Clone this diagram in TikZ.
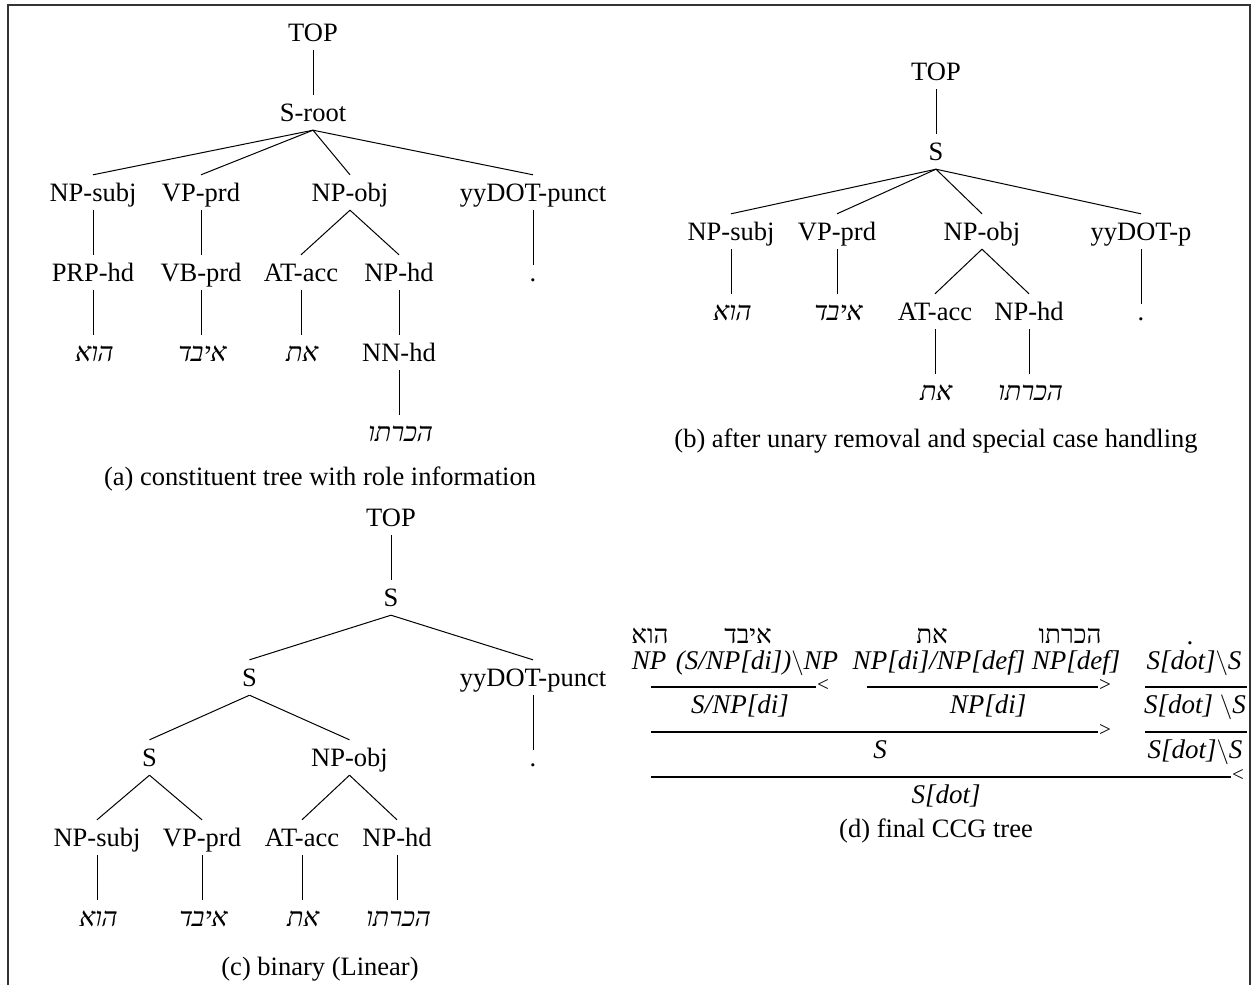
\documentclass[tikz,border=0pt]{standalone}
\usepackage{fontspec}
\setmainfont{Liberation Serif}
\newfontfamily\hebup[Script=Hebrew]{Liberation Serif}
\newfontfamily\hebsl[Script=Hebrew,FakeSlant=0.2]{Liberation Serif}
\TeXXeTstate=1
\newcommand{\bs}{$\backslash$}
\begin{document}
\begin{tikzpicture}[x=1pt,y=-1pt,
  lbl/.style={anchor=base, inner xsep=0pt, inner ysep=8.5pt, text height=18pt, text depth=0pt,
              font=\fontsize{26.5}{30}\selectfont},
  heb/.style={lbl, font=\fontsize{26.5}{30}\hebsl},
  dotleaf/.style={lbl, text height=8pt},
  branch/.style={line width=1pt},
  caption/.style={anchor=base, inner sep=0pt, font=\fontsize{26.5}{30}\selectfont},
  cat/.style={anchor=base, inner sep=0pt, font=\fontsize{27}{32}\selectfont\itshape},
  cathw/.style={anchor=base, inner sep=0pt, font=\fontsize{26}{30}\hebup},
  rulel/.style={line width=1.1pt},
  comb/.style={anchor=center, inner sep=0pt, font=\fontsize{21}{24}\selectfont},
]
\useasboundingbox (0,0) rectangle (1256,985);
\fill[white] (0,0) rectangle (1256,985);

% outer frame, open at the bottom
\draw[line width=1.7pt, black!80] (8,985) -- (8,5) -- (1250,5) -- (1250,985);

% ---------- (a) constituent tree with role information ----------
\node[lbl] (aTop) at (313,41.5) {TOP};
\node[lbl] (aS) at (313,121.5) {S-root};
\node[lbl] (aNPs) at (93,201.5) {NP-subj};
\node[lbl] (aVP) at (201,201.5) {VP-prd};
\node[lbl] (aNPo) at (350,201.5) {NP-obj};
\node[lbl] (aDot) at (533,201.5) {yyDOT-punct};
\node[lbl] (aPRP) at (93,281.5) {PRP-hd};
\node[lbl] (aVB) at (201,281.5) {VB-prd};
\node[lbl] (aAT) at (301,281.5) {AT-acc};
\node[lbl] (aNPh) at (399,281.5) {NP-hd};
\node[dotleaf] (aPt) at (533,281.5) {.};
\node[heb] (aW1) at (93,361.5) {\beginR הוא\endR};
\node[heb] (aW2) at (201,361.5) {\beginR איבד\endR};
\node[heb] (aW3) at (301,361.5) {\beginR את\endR};
\node[lbl] (aNN) at (399,361.5) {NN-hd};
\node[heb] (aW4) at (399,441.5) {\beginR הכרתו\endR};
\node[caption] (capA) at (320,485) {(a) constituent tree with role information};

\draw[branch] (aTop.south) -- (aS.north);
\draw[branch] (aS.south) -- (aNPs.north);
\draw[branch] (aS.south) -- (aVP.north);
\draw[branch] (aS.south) -- (aNPo.north);
\draw[branch] (aS.south) -- (aDot.north);
\draw[branch] (aNPs.south) -- (aPRP.north);
\draw[branch] (aVP.south) -- (aVB.north);
\draw[branch] (aNPo.south) -- (aAT.north);
\draw[branch] (aNPo.south) -- (aNPh.north);
\draw[branch] (aDot.south) -- (aPt.north);
\draw[branch] (aPRP.south) -- (aW1.north);
\draw[branch] (aVB.south) -- (aW2.north);
\draw[branch] (aAT.south) -- (aW3.north);
\draw[branch] (aNPh.south) -- (aNN.north);
\draw[branch] (aNN.south) -- (aW4.north);

% ---------- (b) after unary removal ----------
\node[lbl] (bTop) at (936,80.5) {TOP};
\node[lbl] (bS) at (936,160.5) {S};
\node[lbl] (bNPs) at (731,240.5) {NP-subj};
\node[lbl] (bVP) at (837,240.5) {VP-prd};
\node[lbl] (bNPo) at (982,240.5) {NP-obj};
\node[lbl] (bDot) at (1141,240.5) {yyDOT-p};
\node[heb] (bW1) at (731,320.5) {\beginR הוא\endR};
\node[heb] (bW2) at (837,320.5) {\beginR איבד\endR};
\node[lbl] (bAT) at (935,320.5) {AT-acc};
\node[lbl] (bNPh) at (1029,320.5) {NP-hd};
\node[dotleaf] (bPt) at (1141,320.5) {.};
\node[heb] (bW3) at (935,400.5) {\beginR את\endR};
\node[heb] (bW4) at (1029,400.5) {\beginR הכרתו\endR};
\node[caption] (capB) at (936,447) {(b) after unary removal and special case handling};

\draw[branch] (bTop.south) -- (bS.north);
\draw[branch] (bS.south) -- (bNPs.north);
\draw[branch] (bS.south) -- (bVP.north);
\draw[branch] (bS.south) -- (bNPo.north);
\draw[branch] (bS.south) -- (bDot.north);
\draw[branch] (bNPs.south) -- (bW1.north);
\draw[branch] (bVP.south) -- (bW2.north);
\draw[branch] (bNPo.south) -- (bAT.north);
\draw[branch] (bNPo.south) -- (bNPh.north);
\draw[branch] (bDot.south) -- (bPt.north);
\draw[branch] (bAT.south) -- (bW3.north);
\draw[branch] (bNPh.south) -- (bW4.north);

% ---------- (c) binary (Linear) ----------
\node[lbl] (cTop) at (391,526.5) {TOP};
\node[lbl] (cS0) at (391,606.5) {S};
\node[lbl] (cS1) at (249.5,686.5) {S};
\node[lbl] (cDot) at (533,686.5) {yyDOT-punct};
\node[lbl] (cS2) at (149.5,766.5) {S};
\node[lbl] (cNPo) at (349.5,766.5) {NP-obj};
\node[dotleaf] (cPt) at (533,766.5) {.};
\node[lbl] (cNPs) at (97,846.5) {NP-subj};
\node[lbl] (cVP) at (202,846.5) {VP-prd};
\node[lbl] (cAT) at (302,846.5) {AT-acc};
\node[lbl] (cNPh) at (397,846.5) {NP-hd};
\node[heb] (cW1) at (97,926.5) {\beginR הוא\endR};
\node[heb] (cW2) at (202,926.5) {\beginR איבד\endR};
\node[heb] (cW3) at (302,926.5) {\beginR את\endR};
\node[heb] (cW4) at (397,926.5) {\beginR הכרתו\endR};
\node[caption] (capC) at (320,975) {(c) binary (Linear)};

\draw[branch] (cTop.south) -- (cS0.north);
\draw[branch] (cS0.south) -- (cS1.north);
\draw[branch] (cS0.south) -- (cDot.north);
\draw[branch] (cS1.south) -- (cS2.north);
\draw[branch] (cS1.south) -- (cNPo.north);
\draw[branch] (cDot.south) -- (cPt.north);
\draw[branch] (cS2.south) -- (cNPs.north);
\draw[branch] (cS2.south) -- (cVP.north);
\draw[branch] (cNPo.south) -- (cAT.north);
\draw[branch] (cNPo.south) -- (cNPh.north);
\draw[branch] (cNPs.south) -- (cW1.north);
\draw[branch] (cVP.south) -- (cW2.north);
\draw[branch] (cAT.south) -- (cW3.north);
\draw[branch] (cNPh.south) -- (cW4.north);

% ---------- (d) final CCG derivation ----------
\node[cathw] (dW1) at (650,643) {\beginR הוא\endR};
\node[cathw] (dW2) at (748,643) {\beginR איבד\endR};
\node[cathw] (dW3) at (932,643) {\beginR את\endR};
\node[cathw] (dW4) at (1070,643) {\beginR הכרתו\endR};
\node[cat, font=\fontsize{27}{32}\selectfont] (dW5) at (1190,644) {.};

\node[cat] (dC1) at (649,669) {NP};
\node[cat] (dC2) at (757,669) {(S/NP[di])\bs NP};
\node[cat] (dC3) at (939,669) {NP[di]/NP[def]};
\node[cat] (dC4) at (1076,669) {NP[def]};
\node[cat] (dC5) at (1194,669) {S[dot]\bs S};

% combination rules
\coordinate (r1a) at (651,687); \coordinate (r1b) at (816,687);
\coordinate (r2a) at (867,687); \coordinate (r2b) at (1098,687);
\coordinate (r3a) at (1145,687); \coordinate (r3b) at (1247,687);
\coordinate (r4a) at (651,732); \coordinate (r4b) at (1098,732);
\coordinate (r5a) at (1145,732); \coordinate (r5b) at (1247,732);
\coordinate (r6a) at (651,777); \coordinate (r6b) at (1231,777);
\draw[rulel] (r1a) -- (r1b);
\draw[rulel] (r2a) -- (r2b);
\draw[rulel] (r3a) -- (r3b);
\draw[rulel] (r4a) -- (r4b);
\draw[rulel] (r5a) -- (r5b);
\draw[rulel] (r6a) -- (r6b);
\node[comb, anchor=west] (o1) at ([xshift=1pt,yshift=1.5pt]r1b) {<};
\node[comb, anchor=west] (o2) at ([xshift=1pt,yshift=1.5pt]r2b) {>};
\node[comb, anchor=west] (o3) at ([xshift=1pt,yshift=1.5pt]r4b) {>};
\node[comb, anchor=west] (o4) at ([xshift=1pt,yshift=1.5pt]r6b) {<};

\node[cat] (dR1) at (740,713.5) {S/NP[di]};
\node[cat] (dR2) at (988,713.5) {NP[di]};
\node[cat] (dR3) at (1195,713.5) {S[dot] \bs S};
\node[cat] (dR4) at (880,758.5) {S};
\node[cat] (dR5) at (1195,758.5) {S[dot]\bs S};
\node[cat] (dR6) at (946,803.5) {S[dot]};
\node[caption] (capD) at (936,837) {(d) final CCG tree};
\end{tikzpicture}
\end{document}
